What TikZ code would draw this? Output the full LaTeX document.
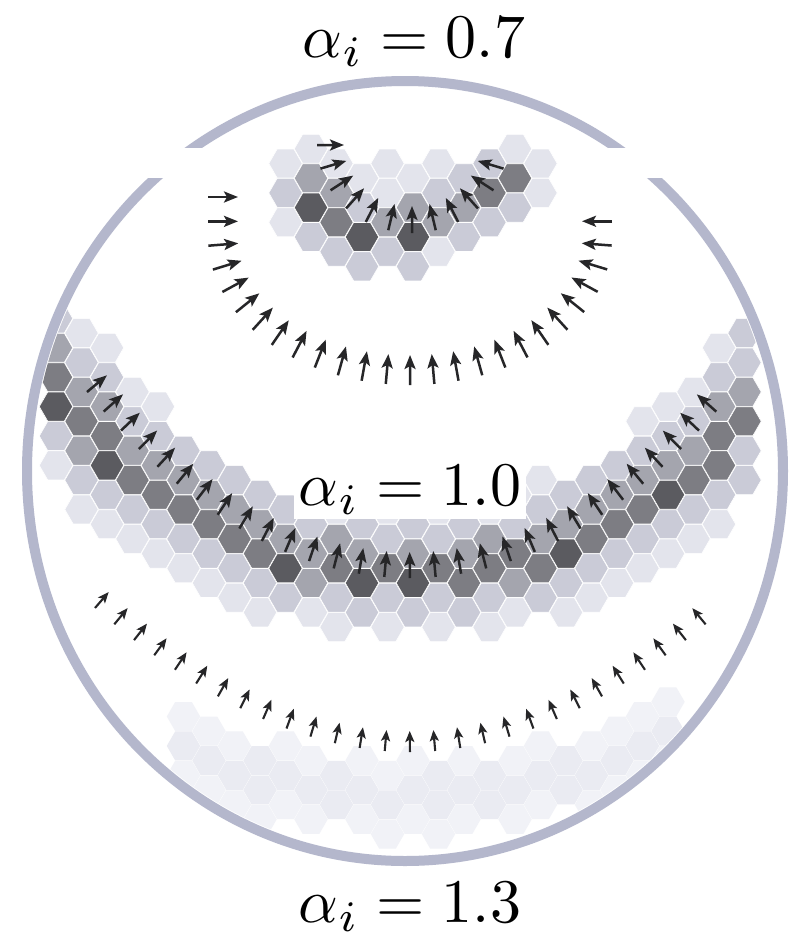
\documentclass[tikz,border=0pt]{standalone}
\usetikzlibrary{decorations.markings,arrows.meta}
\definecolor{ringc}{HTML}{B4B7CC}
\definecolor{arrc}{HTML}{262628}
\definecolor{hcol1}{HTML}{E3E4EC}
\definecolor{hcol2}{HTML}{CACBD7}
\definecolor{hcol3}{HTML}{A4A5AE}
\definecolor{hcol4}{HTML}{7D7D83}
\definecolor{hcol5}{HTML}{5B5B60}
\definecolor{faint1}{HTML}{F1F2F7}
\definecolor{faint2}{HTML}{EAEBF2}
\tikzset{
  hexs/.style={draw=white,line width=0.6pt},
  arrA/.style={draw=arrc,line width=2.5pt,-{Stealth[length=14pt,width=11pt,inset=3pt]}},
  arrD/.style={draw=arrc,line width=2.1pt,-{Stealth[length=11pt,width=9pt,inset=2.5pt]}},
  arrowrow/.style n args={3}{decoration={markings,
      mark=between positions 0 and 1 step #1 with {\draw[#3] (0pt,0pt) -- (0pt,#2);}},
      decorate},
  lab/.style={font=\fontsize{10}{12}\selectfont,inner sep=0pt,scale=6.2}
}
\newcommand\HexCell[3]{\path[hexs,fill=#3] (#1+16.7,#2) -- (#1+8.35,#2+14.46) -- (#1-8.35,#2+14.46) -- (#1-16.7,#2) -- (#1-8.35,#2-14.46) -- (#1+8.35,#2-14.46) -- cycle;}
\newcommand\FaintCell[3]{\path[fill=#3] (#1+16.7,#2) -- (#1+8.35,#2+14.46) -- (#1-8.35,#2+14.46) -- (#1-16.7,#2) -- (#1-8.35,#2-14.46) -- (#1+8.35,#2-14.46) -- cycle;}
\begin{document}
\begin{tikzpicture}[x=1pt,y=-1pt]
\useasboundingbox (0,0) rectangle (809,940);
\fill[white] (0,0) rectangle (809,940);
% outer ring
\draw[ringc,line width=10pt] (405,471) ellipse[x radius=378,y radius=390];
\fill[white] (140,148) rectangle (675,178);
\begin{scope}
\clip (405,471) ellipse[x radius=372,y radius=384];
% faint lower band
\foreach \k in {-7,...,12}{
  \foreach \j in {-4,...,3}{
    \pgfmathsetmacro\hx{362+25.5*\k}
    \pgfmathsetmacro\hy{790+29.4*\j-14.7*abs(mod(\k,2))}
    \pgfmathsetmacro\ddx{abs(\hx-410)}
    \pgfmathsetmacro\yc{796-38*(\ddx/210)^2}
    \pgfmathsetmacro\sl{0.3619*\ddx/210}
    \pgfmathsetmacro\dd{abs(\hy-\yc)/sqrt(1+\sl*\sl)}
    \pgfmathtruncatemacro\lev{(\dd < 20) ? 2 : ((\dd < 42) ? 1 : 0)}
    \pgfmathtruncatemacro\ok{((\hy < 852) && (\lev > 0)) ? 1 : 0}
    \ifnum\ok=1 \ifnum\lev=2 \FaintCell{\hx}{\hy}{faint2}\else\FaintCell{\hx}{\hy}{faint1}\fi\fi
  }
}
% middle band
\foreach \k in {-12,...,15}{
  \foreach \j in {-9,...,3}{
    \pgfmathsetmacro\hx{362+25.5*\k}
    \pgfmathsetmacro\hy{583+29.4*\j-14.7*abs(mod(\k,2))}
    \pgfmathsetmacro\ddx{abs(\hx-410)}
    \pgfmathsetmacro\yc{583-116*(\ddx/297)^2.4}
    \pgfmathsetmacro\sl{0.93737*(\ddx/297)^1.4}
    \pgfmathsetmacro\dd{(\hy-\yc)/sqrt(1+\sl*\sl)}
    \pgfmathtruncatemacro\lev{((\dd >= -20) && (\dd <= 8)) ? 4 : (((\dd >= -40) && (\dd <= 12)) ? 3 : (((\dd >= -65) && (\dd <= 35)) ? 2 : (((\dd >= -85) && (\dd <= 52)) ? 1 : 0)))}
    \pgfmathtruncatemacro\ok{((\hy > 318) && (\lev > 0)) ? 1 : 0}
    \ifnum\ok=1 \HexCell{\hx}{\hy}{hcol\lev}\fi
  }
}
\foreach \k/\j in {0/0,2/0,-3/0,-10/-4,-12/-6,8/-1,12/-3}{
  \pgfmathsetmacro\hx{362+25.5*\k}
  \pgfmathsetmacro\hy{583+29.4*\j-14.7*abs(mod(\k,2))}
  \HexCell{\hx}{\hy}{hcol5}
}
\end{scope}
% top group
\foreach \k/\j/\c in {-3/-2/1,-3/-1/2,-3/0/1,-2/-3/1,-2/-2/3,-2/-1/5,-2/0/2,
  -1/-2/1,-1/-1/3,-1/0/4,-1/1/2,0/-2/1,0/-1/2,0/0/5,0/1/2,1/-2/1,1/-1/1,1/0/3,1/1/2,
  2/-2/1,2/-1/3,2/0/5,2/1/2,3/-2/1,3/-1/2,3/0/3,3/1/1,4/-2/2,4/-1/3,4/0/2,
  5/-2/2,5/-1/4,5/0/2,6/-3/1,6/-2/4,6/-1/2,7/-2/1,7/-1/1}{
  \pgfmathsetmacro\hx{362+25.5*\k}
  \pgfmathsetmacro\hy{237+29.4*\j-14.7*abs(mod(\k,2))}
  \HexCell{\hx}{\hy}{hcol\c}
}
% middle label
\node[lab,anchor=base,fill=white,inner sep=0.8pt] (l10) at (410,505) {$\alpha_i = 1.0$};
% arrow rows
\path[arrowrow={0.0833333}{27pt}{arrA}] (317,145) arc[start angle=180,end angle=0,x radius=95,y radius=88];
\path[arrowrow={0.0384615}{30pt}{arrA}] (208,197) -- (208,237) arc[start angle=180,end angle=0,x radius=202,y radius=148] -- (612,197);
\path[arrowrow={0.0333333}{26pt}{arrA}] plot[domain=-1:1,samples=81] ({410+323*\x},{578-186*\x*\x*(0.9+0.1*abs(\x))});
\path[arrowrow={0.0357142}{21pt}{arrD}] plot[domain=-1:1,samples=81] ({410+315*\x},{752-144*\x*\x*(1.1-0.1*abs(\x))});
% labels
\node[lab,anchor=base] (l07) at (414,57) {$\alpha_i = 0.7$};
\node[lab,anchor=base] (l13) at (410,922) {$\alpha_i = 1.3$};
\end{tikzpicture}
\end{document}
